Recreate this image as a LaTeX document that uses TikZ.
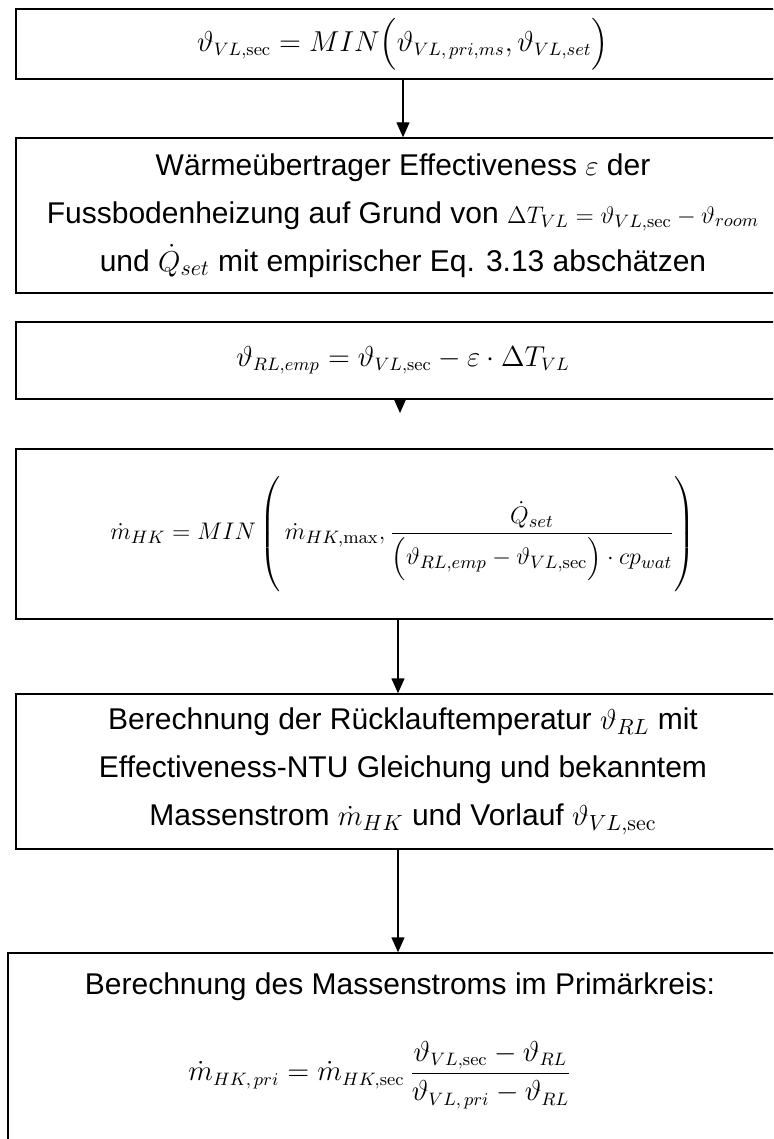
\documentclass[tikz,border=0pt]{standalone}
\usepackage{amsmath}
\usepackage[no-math]{fontspec}
\setmainfont{Liberation Sans}
\usepackage{tikz}
\usetikzlibrary{arrows.meta,positioning}

\begin{document}
\begin{tikzpicture}[x=0.5pt,y=-0.5pt,
    flowbox/.style={draw, line width=0.7pt, minimum width=387pt, align=center,
      inner sep=0pt, font=\fontsize{15}{24}\selectfont},
    flowarrow/.style={line width=0.7pt, -{Triangle[length=7.5pt,width=6.5pt]}}]
    \useasboundingbox (0,0) rectangle (773,1139);
    \clip (0,0) rectangle (773,1139);

    % Boxes
    \node[flowbox, minimum height=35pt, font=\fontsize{13.5}{23.5}\selectfont] (box1) at (403,44)
      {$\vartheta_{VL,\mathrm{sec}}=MIN\Big(\vartheta_{VL,\,pri,ms},\vartheta_{VL,set}\Big)$};
    \node[flowbox, minimum height=77.5pt] (box2) at (403,215.5)
      {Wärmeübertrager Effectiveness $\varepsilon$ der\\
       Fussbodenheizung auf Grund von {\fontsize{12.5}{24}\selectfont$\Delta T_{VL}=\vartheta_{VL,\mathrm{sec}}-\vartheta_{room}$}\\
       und $\dot{Q}_{set}$ mit empirischer Eq. 3.13 abschätzen};
    \node[flowbox, minimum height=38.5pt, font=\fontsize{13.5}{23.5}\selectfont] (box3) at (403,360.5)
      {$\vartheta_{RL,emp}=\vartheta_{VL,\mathrm{sec}}-\varepsilon\cdot\Delta T_{VL}$};
    \node[flowbox, minimum height=85pt, font=\fontsize{13}{23.5}\selectfont] (box4) at (403,534)
      {$\dot{m}_{HK}=MIN\left(\vrule height 2.2em depth 2.0em width 0pt\,\dot{m}_{HK,\max},
        \dfrac{\dot{Q}_{set}}{\Big(\vartheta_{RL,emp}-\vartheta_{VL,\mathrm{sec}}\Big)\cdot cp_{wat}}\right)$};
    \node[flowbox, minimum height=77.5pt] (box5) at (403,771.5)
      {Berechnung der Rücklauftemperatur $\vartheta_{RL}$ mit\\
       Effectiveness-NTU Gleichung und bekanntem\\
       Massenstrom $\dot{m}_{HK}$ und Vorlauf $\vartheta_{VL,\mathrm{sec}}$};
    \node[flowbox, minimum width=395pt, minimum height=105pt] (box6) at (403,1058) {};
    \node[font=\fontsize{15}{24}\selectfont] (box6title) at (400,987)
      {Berechnung des Massenstroms im Primärkreis:};
    \node[font=\fontsize{13.5}{23.5}\selectfont] (box6eq) at (380,1075)
      {$\dot{m}_{HK,\,pri}=\dot{m}_{HK,\mathrm{sec}}\,
        \dfrac{\vartheta_{VL,\mathrm{sec}}-\vartheta_{RL}}{\vartheta_{VL,\,pri}-\vartheta_{RL}}$};

    % Arrows
    \coordinate (tip3) at (400,413);
    \draw[flowarrow] (box1.south) -- (box2.north);
    \draw[flowarrow] (box3.south -| tip3) -- (tip3);
    \draw[flowarrow] ([xshift=-2.5pt]box4.south) -- ([xshift=-2.5pt]box5.north);
    \draw[flowarrow] ([xshift=-2.5pt]box5.south) -- ([xshift=-2.5pt]box6.north);
\end{tikzpicture}
\end{document}
